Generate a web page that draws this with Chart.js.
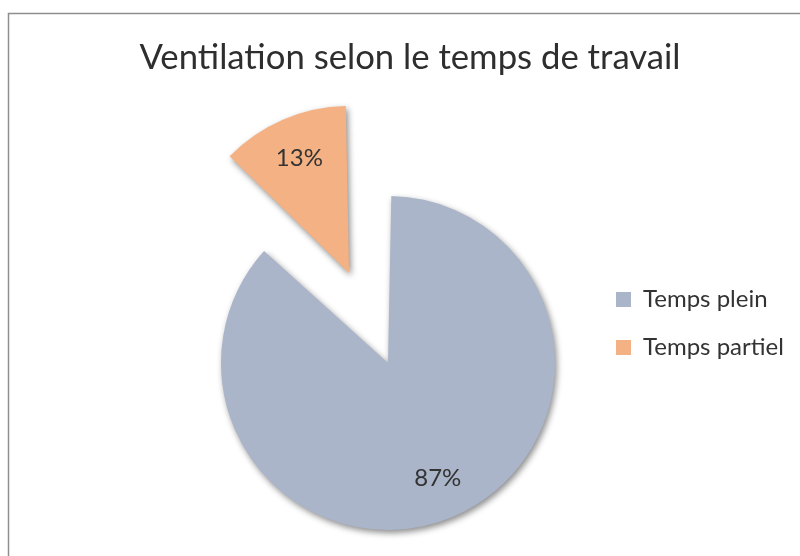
<!DOCTYPE html>
<html>
<head>
<meta charset="utf-8">
<script src="https://cdn.jsdelivr.net/npm/chart.js@4.4.1/dist/chart.umd.min.js"></script>
<style>
  html, body { margin: 0; padding: 0; background: #fff; }
  canvas { display: block; }
</style>
</head>
<body>
<canvas id="pie-chart" width="800" height="556"></canvas>
<script>
var title = 'Ventilation selon le temps de travail';
var labels = ['Temps plein', 'Temps partiel'];
var values = [87, 13];
var colors = ['#aab5c9', '#f4b183'];

var legendSize = 24;
var legendPad = 48 - legendSize;

// legend width, so the pie keeps its place left of it
var mctx = document.createElement('canvas').getContext('2d');
mctx.font = legendSize + 'px Lato';
var textW = Math.max.apply(null, labels.map(function (l) { return mctx.measureText(l).width; }));
var legendW = legendPad + 15 + legendSize / 2 + textW + 10;
var legendLeft = 616 - legendPad;

// grey frame, only top and left edges show in the original
const frame = {
    id: 'frame',
    beforeDraw(chart) {
        const c = chart.ctx;
        c.save();
        c.fillStyle = '#fff';
        c.fillRect(0, 0, chart.width, chart.height);
        c.strokeStyle = '#8e8e8e';
        c.lineWidth = 1.5;
        c.beginPath();
        c.moveTo(8.5, chart.height);
        c.lineTo(8.5, 13.5);
        c.lineTo(chart.width, 13.5);
        c.stroke();
        c.restore();
    }
};

// title sits centred on the whole frame, not on the pie
const topTitle = {
    id: 'topTitle',
    afterDraw(chart) {
        const c = chart.ctx;
        c.save();
        c.font = '34.7px Lato';
        c.fillStyle = '#2e2e2e';
        c.textAlign = 'center';
        c.textBaseline = 'alphabetic';
        c.fillText(title, 410, 69);
        c.restore();
    }
};

// soft drop shadow under the slices
const shadow = {
    id: 'shadow',
    beforeDatasetsDraw(chart) {
        const c = chart.ctx;
        c.save();
        c.shadowColor = 'rgba(0,0,0,0.45)';
        c.shadowBlur = 6;
        c.shadowOffsetX = 2;
        c.shadowOffsetY = 3;
    },
    afterDatasetsDraw(chart) {
        chart.ctx.restore();
    }
};

// percentage labels inside the slices
const pctLabels = {
    id: 'pctLabels',
    afterDatasetsDraw(chart) {
        const c = chart.ctx;
        const meta = chart.getDatasetMeta(0);
        const total = values.reduce((a, b) => a + b, 0);
        c.save();
        c.font = '24px Lato';
        c.fillStyle = '#333';
        c.textAlign = 'center';
        c.textBaseline = 'middle';
        meta.data.forEach(function (arc, i) {
            const p = arc.getProps(['x', 'y', 'startAngle', 'endAngle', 'outerRadius', 'circumference']);
            const mid = (p.startAngle + p.endAngle) / 2;
            const shift = (arc.options.offset || 0) / 4;
            const r = p.outerRadius + shift * (1 - Math.sin(Math.min(Math.PI, p.circumference)));
            const cx = p.x + Math.cos(mid) * shift;
            const cy = p.y + Math.sin(mid) * shift;
            const txt = Math.round(values[i] / total * 100) + '%';
            c.fillText(txt, cx + Math.cos(mid) * r * 0.75, cy + Math.sin(mid) * r * 0.75);
        });
        c.restore();
    }
};

var padTop = 299.5 - legendSize / 2 - legendPad;
var padBottom = 556 - (2 * 343.8 - padTop);
var padLeft = 2 * 379.7 - legendLeft;
var padRight = 800 - legendLeft - legendW;

new Chart(document.getElementById('pie-chart'), {
    type: 'pie',
    data: {
        labels: labels,
        datasets: [{
            data: values,
            backgroundColor: colors,
            borderWidth: 0,
            offset: [83.6, 308.4],
            radius: 146.1,
            cutout: '0%',
            clip: false
        }]
    },
    options: {
        responsive: false,
        animation: false,
        events: [],
        layout: {
            padding: { left: padLeft, right: padRight, top: padTop, bottom: padBottom }
        },
        plugins: {
            title: { display: false },
            legend: {
                position: 'right',
                align: 'start',
                labels: {
                    boxWidth: 15,
                    boxHeight: 15,
                    padding: legendPad,
                    color: '#333',
                    font: { family: 'Lato', size: legendSize }
                }
            },
            tooltip: { enabled: false }
        }
    },
    plugins: [frame, shadow, pctLabels, topTitle]
});
</script>
</body>
</html>
